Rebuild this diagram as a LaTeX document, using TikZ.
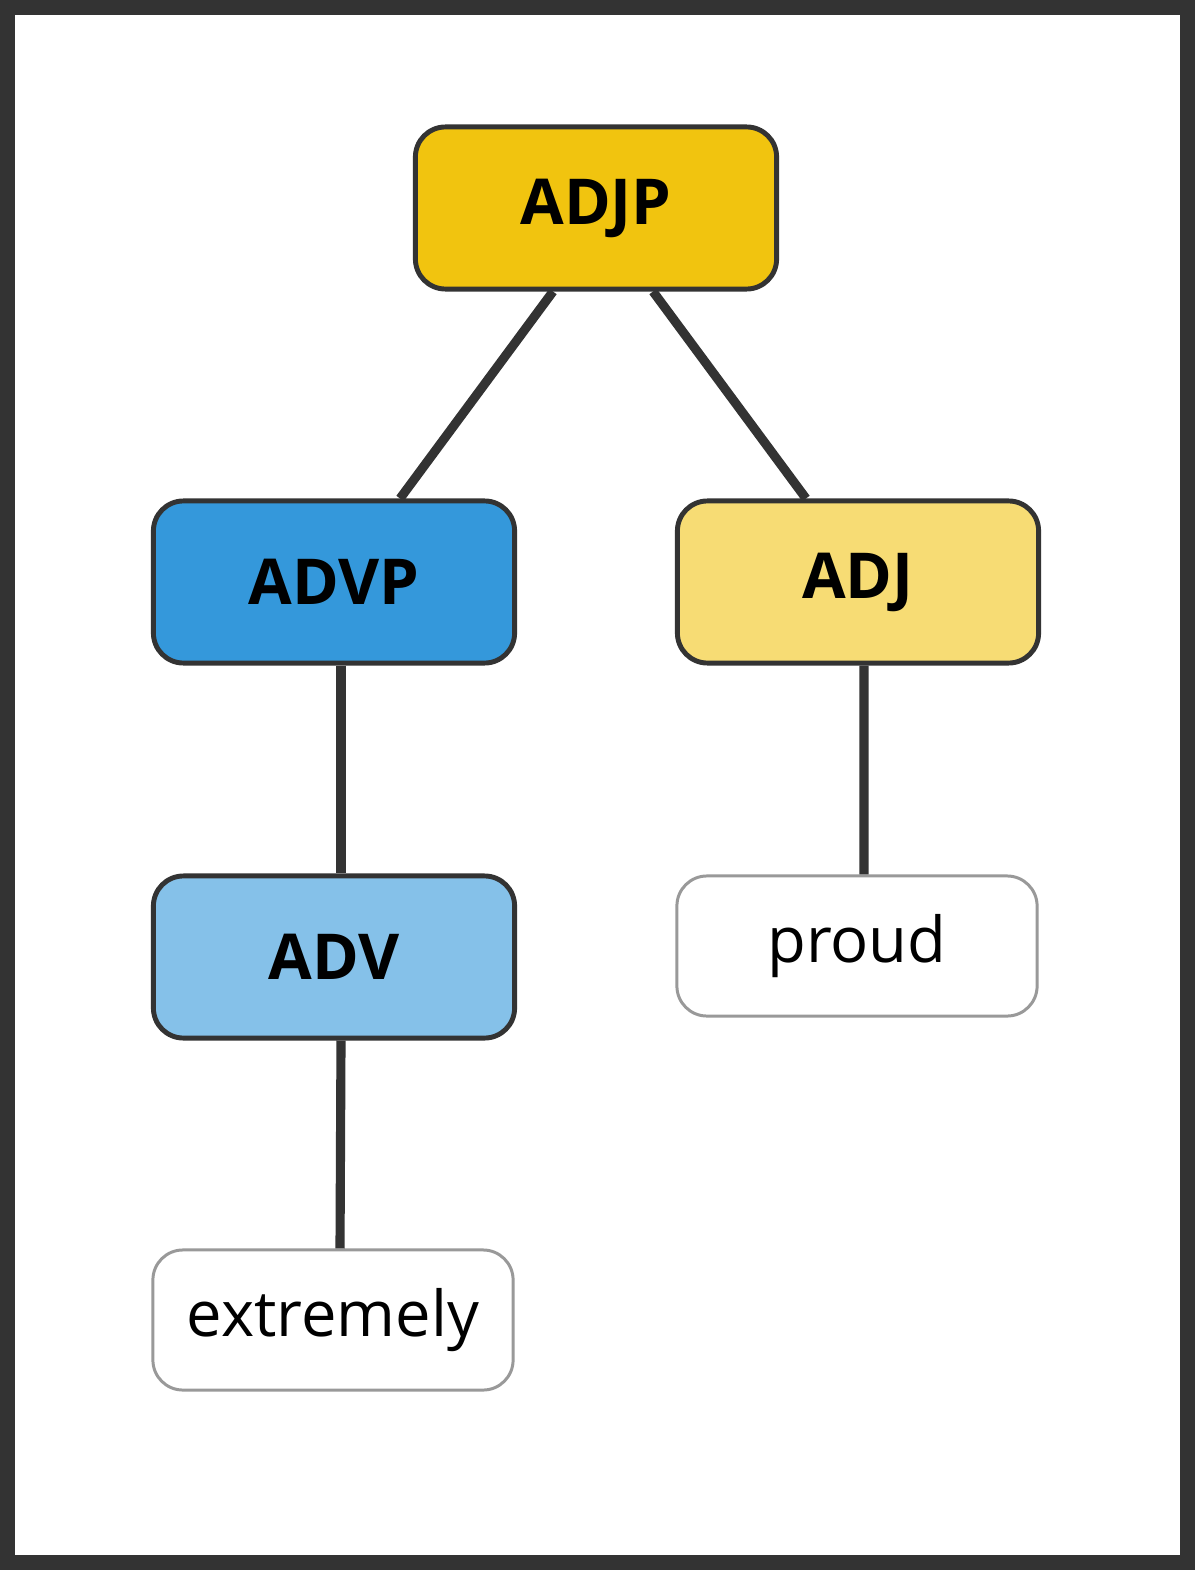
\documentclass[tikz,border=0pt]{standalone}
\usepackage{fontspec}
\setmainfont{Open Sans}
\usepackage{tikz}

\definecolor{frame}{HTML}{333333}
\definecolor{gold}{HTML}{F1C40F}
\definecolor{lightgold}{HTML}{F7DC74}
\definecolor{blue}{HTML}{3498DB}
\definecolor{lightblue}{HTML}{85C1E9}
\definecolor{leafgray}{HTML}{999999}

\tikzset{
    phrase/.style={draw=frame, line width=1.4pt, rounded corners=0.3cm,
        minimum width=3.61cm, minimum height=1.62cm, font=\fontsize{18}{20}\selectfont\bfseries},
    leaf/.style={draw=leafgray, fill=white, line width=0.85pt, rounded corners=0.3cm,
        minimum width=3.6cm, minimum height=1.4cm, font=\fontsize{18}{20}\selectfont},
    branch/.style={draw=frame, line width=2.6pt}
}

\begin{document}
\begin{tikzpicture}[x=0.01cm, y=-0.01cm]
    % Khung
    \fill[frame] (0,0) rectangle (1195,1570);
    \fill[white] (15,15) rectangle (1180,1555);

    % Các nút
    \node[phrase, fill=gold] (adjp) at (596,208) {ADJP};
    \node[phrase, fill=blue] (advp) at (334,582) {ADVP};
    \node[phrase, fill=lightgold] (adj) at (858,582) {ADJ};
    \node[phrase, fill=lightblue] (adv) at (334,957) {ADV};
    \node[leaf] (proud) at (857,946) {proud};
    \node[leaf] (extremely) at (333,1320) {extremely};

    % Các đoạn thẳng
    \draw[branch] ([xshift=-0.43cm]adjp.south) -- ([xshift=0.66cm]advp.north);
    \draw[branch] ([xshift=0.57cm]adjp.south) -- ([xshift=-0.52cm]adj.north);
    \draw[branch] ([xshift=0.07cm]advp.south) -- ([xshift=0.07cm]adv.north);
    \draw[branch] ([xshift=0.06cm]adj.south) -- ([xshift=0.07cm]proud.north);
    \draw[branch] ([xshift=0.07cm]adv.south) -- ([xshift=0.07cm]extremely.north);
\end{tikzpicture}
\end{document}
